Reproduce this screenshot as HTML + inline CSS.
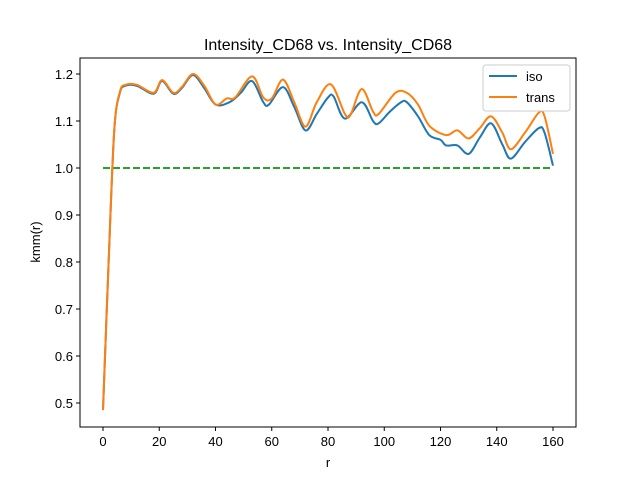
<!DOCTYPE html>
<html><head><meta charset="utf-8"><style>
body{margin:0;background:#fff}
svg{font-family:"Liberation Sans","DejaVu Sans",sans-serif}
</style></head><body>
<svg id="chart" width="640" height="480" xmlns="http://www.w3.org/2000/svg">
<rect width="640" height="480" fill="#fff"/>
<text x="328" y="50" font-size="16" text-anchor="middle">Intensity_CD68 vs. Intensity_CD68</text>
<g id="plot"></g>
<rect x="80" y="58" width="496" height="369" fill="none" stroke="#000" stroke-width="1"/>
<text x="328" y="467" font-size="13" text-anchor="middle">r</text>
<text transform="translate(40,242) rotate(-90)" font-size="13" text-anchor="middle">kmm(r)</text>
<g>
<rect x="483" y="65" width="87" height="46" rx="3" fill="#fff" stroke="#ccc"/>
<line x1="489" y1="76" x2="517" y2="76" stroke="#1f77b4" stroke-width="2"/>
<text x="526" y="81" font-size="13">iso</text>
<line x1="489" y1="97" x2="517" y2="97" stroke="#ff7f0e" stroke-width="2"/>
<text x="526" y="102" font-size="13">trans</text>
</g>
</svg>
<script>
const xTicks=[0,20,40,60,80,100,120,140,160];
const yTicks=[0.5,0.6,0.7,0.8,0.9,1.0,1.1,1.2];
const isoR=[0,2,4,6,8,12,18,21,25,28,32,36,40,45,49,53,57,59,64,68,72,76,80,82,86,92,96,98,102,106,108,112,116,120,122,126,130,134,138,142,145,150,155,157,160];
const isoV=[0.485,0.8,1.08,1.16,1.175,1.175,1.158,1.185,1.158,1.17,1.198,1.17,1.135,1.14,1.16,1.185,1.14,1.135,1.172,1.13,1.08,1.115,1.15,1.152,1.105,1.14,1.1,1.095,1.12,1.14,1.14,1.11,1.07,1.06,1.048,1.048,1.03,1.065,1.095,1.05,1.02,1.055,1.085,1.075,1.005];
const transR=[0,2,4,6,8,12,18,21,25,28,32,36,40,44,47,53,57,60,64,68,72,76,81,86,88,92,96,98,104,108,112,116,122,126,130,134,138,142,145,150,155,157,160];
const transV=[0.485,0.8,1.08,1.162,1.177,1.177,1.16,1.187,1.16,1.172,1.2,1.175,1.135,1.148,1.15,1.195,1.15,1.148,1.188,1.14,1.088,1.14,1.178,1.115,1.113,1.168,1.12,1.115,1.16,1.16,1.135,1.09,1.07,1.08,1.063,1.085,1.11,1.075,1.04,1.075,1.118,1.11,1.03];
const refR=[0,160];
const refV=[1.0,1.0];
const X=r=>103+r*450/160;
const Y=v=>403-(v-0.5)*470;
const NS="http://www.w3.org/2000/svg";
const g=document.getElementById('plot');
function mk(t,a){const e=document.createElementNS(NS,t);for(const k in a)e.setAttribute(k,a[k]);g.appendChild(e);return e;}
xTicks.forEach(t=>{
 const l=mk('line',{x1:X(t),x2:X(t),y1:427,y2:431,stroke:'#000'});
 
 
 const s=mk('text',{x:X(t),y:446,'font-size':13,'text-anchor':'middle'});s.textContent=t;
 
 
});
yTicks.forEach(t=>{
 const l=mk('line',{x1:76,x2:80,y1:Y(t),y2:Y(t),stroke:'#000'});
 
 
 const s=mk('text',{x:73,y:Y(t)+5,'font-size':13,'text-anchor':'end'});s.textContent=t.toFixed(1);
 
 
});
function smooth(R,V){
 const p=R.map((r,i)=>[X(r),Y(V[i])]);
 let d='M'+p[0][0]+','+p[0][1];
 for(let i=0;i<p.length-1;i++){
  const p0=p[Math.max(i-1,0)],p1=p[i],p2=p[i+1],p3=p[Math.min(i+2,p.length-1)];
  const c1=[p1[0]+(p2[0]-p0[0])/6,p1[1]+(p2[1]-p0[1])/6];
  const c2=[p2[0]-(p3[0]-p1[0])/6,p2[1]-(p3[1]-p1[1])/6];
  d+=` C${c1[0]},${c1[1]} ${c2[0]},${c2[1]} ${p2[0]},${p2[1]}`;
 }
 return d;
}
const ref=mk('line',{x1:X(refR[0]),x2:X(refR[1]),y1:Y(refV[0]),y2:Y(refV[1]),stroke:'#2ca02c','stroke-width':2,'stroke-dasharray':'7,3'});


const iso=mk('path',{d:smooth(isoR,isoV),fill:'none',stroke:'#1f77b4','stroke-width':2});


const tr=mk('path',{d:smooth(transR,transV),fill:'none',stroke:'#ff7f0e','stroke-width':2});


</script>
</body></html>
